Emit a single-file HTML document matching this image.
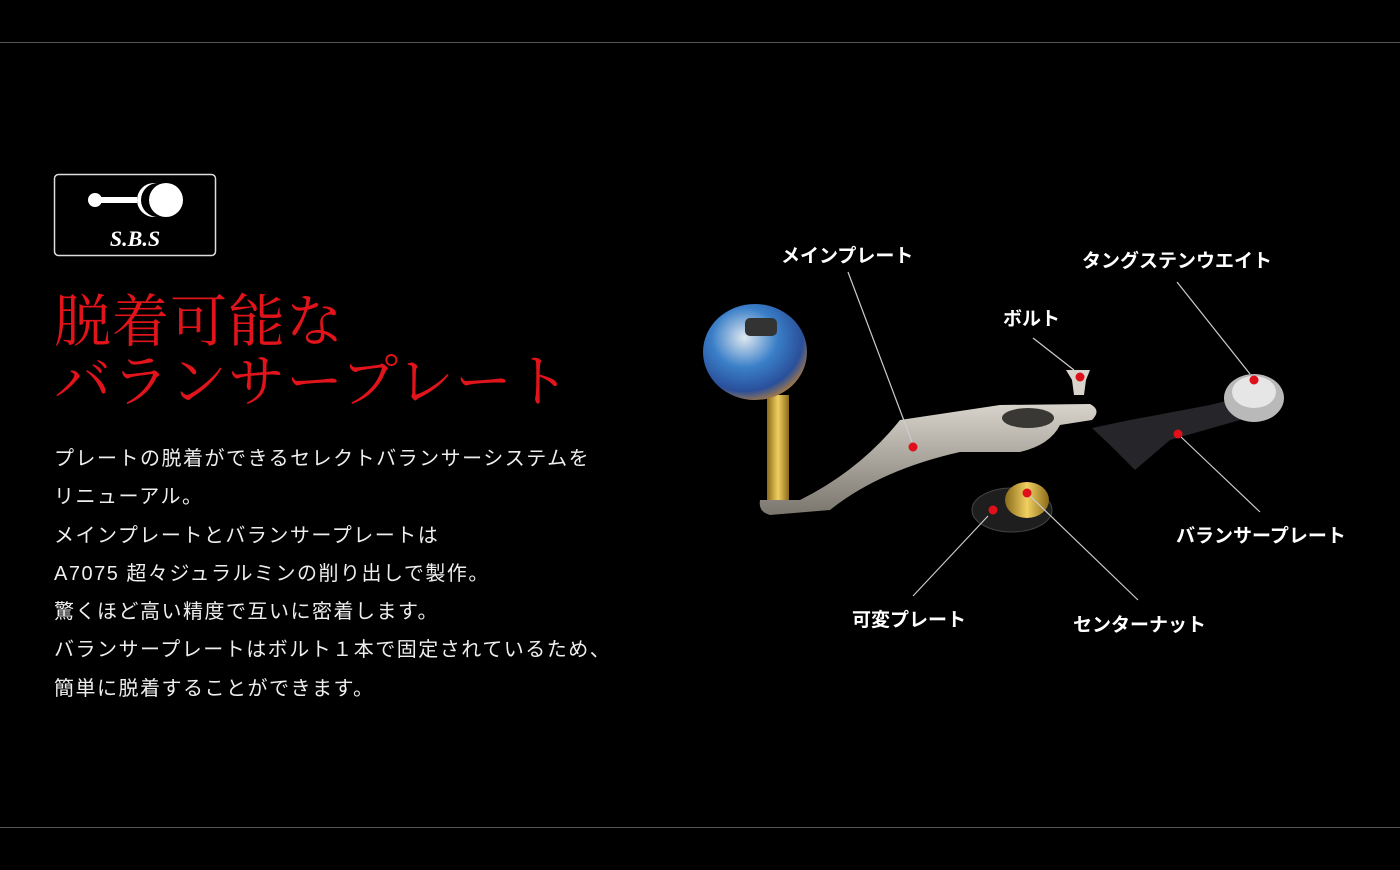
<!DOCTYPE html>
<html><head><meta charset="utf-8"><style>
html,body{margin:0;padding:0;background:#000;width:1400px;height:870px;overflow:hidden;position:relative}
.hl{position:absolute;left:0;width:1400px;height:1px;background:#555}
.t{position:absolute;left:54px;color:#e0141a;font-family:"Liberation Serif","Noto Serif CJK SC",serif;font-size:57px;line-height:62px;letter-spacing:1px}
.b{position:absolute;left:54px;top:440px;color:#eee;font-family:"Liberation Sans","Noto Sans CJK JP",sans-serif;font-size:20px;letter-spacing:1.5px;line-height:38.3px}
.lab{position:absolute;color:#fff;font-family:"Liberation Sans","Noto Sans CJK JP",sans-serif;font-size:19px;font-weight:bold;white-space:nowrap}
</style></head><body>
<div class="hl" style="top:42px"></div>
<div class="hl" style="top:827px"></div>
<svg style="position:absolute;left:0;top:0" width="1400" height="870">
<rect x="54.5" y="174.5" width="161" height="81" rx="4" fill="none" stroke="#ddd" stroke-width="1.5"/>
<circle cx="95" cy="200" r="7" fill="#fff"/>
<rect x="95" y="197" width="42" height="6" fill="#fff"/>
<circle cx="154" cy="200" r="17" fill="#fff"/>
<circle cx="158" cy="200" r="17" fill="#000"/>
<circle cx="166" cy="200" r="17" fill="#fff"/>
<text x="135" y="246" fill="#fff" font-family="Liberation Serif,serif" font-style="italic" font-weight="bold" font-size="22" text-anchor="middle">S.B.S</text>
<defs>
<radialGradient id="k" cx="0.4" cy="0.35" r="0.7"><stop offset="0" stop-color="#dfe8f0"/><stop offset="0.45" stop-color="#3a7fc8"/><stop offset="0.8" stop-color="#2a4f9a"/><stop offset="1" stop-color="#b8803a"/></radialGradient>
<linearGradient id="g" x1="0" x2="1"><stop offset="0" stop-color="#8a6a1a"/><stop offset="0.5" stop-color="#f0d060"/><stop offset="1" stop-color="#8a6a1a"/></linearGradient>
<linearGradient id="s" x1="0" y1="0" x2="0" y2="1"><stop offset="0" stop-color="#d8d4cc"/><stop offset="1" stop-color="#7a766e"/></linearGradient>
</defs>
<rect x="767" y="395" width="22" height="110" fill="url(#g)"/>
<path d="M760 500 L800 500 Q860 470 900 420 L1000 405 L1090 404 Q1102 410 1092 420 L1060 425 Q1050 445 1020 452 L960 452 Q880 470 830 510 L770 515 Q758 512 760 500Z" fill="url(#s)"/>
<ellipse cx="1028" cy="418" rx="26" ry="10" fill="#3a3834"/>
<ellipse cx="755" cy="352" rx="52" ry="48" fill="url(#k)"/>
<rect x="745" y="318" width="32" height="18" rx="5" fill="#333"/>
<path d="M1092 428 L1130 420 L1210 405 L1230 400 L1240 420 L1170 440 L1135 470 L1110 445Z" fill="#26262a"/>
<ellipse cx="1254" cy="398" rx="30" ry="24" fill="#b9b9b9"/>
<ellipse cx="1254" cy="392" rx="22" ry="16" fill="#e6e6e6"/>
<path d="M1066 370 L1090 370 L1086 380 L1084 395 L1074 395 L1072 380Z" fill="#d8d4cc"/>
<ellipse cx="1012" cy="510" rx="40" ry="22" fill="#1e1e1e" stroke="#444"/>
<ellipse cx="1027" cy="500" rx="22" ry="18" fill="url(#g)"/>
<g stroke="#ccc" stroke-width="1.2">
<line x1="848" y1="272" x2="912" y2="442"/>
<line x1="1177" y1="282" x2="1250" y2="374"/>
<line x1="1033" y1="338" x2="1074" y2="370"/>
<line x1="1260" y1="512" x2="1180" y2="436"/>
<line x1="913" y1="596" x2="988" y2="516"/>
<line x1="1138" y1="600" x2="1030" y2="496"/>
</g>
<g fill="#e0101a">
<circle cx="913" cy="447" r="4.5"/><circle cx="1254" cy="380" r="4.5"/><circle cx="1080" cy="377" r="4.5"/>
<circle cx="1178" cy="434" r="4.5"/><circle cx="993" cy="510" r="4.5"/><circle cx="1027" cy="493" r="4.5"/>
</g>
</svg>
<div class="t" style="top:292px">脱着可能な</div>
<div class="t" style="top:352px">バランサープレート</div>
<div class="b">プレートの脱着ができるセレクトバランサーシステムを<br>リニューアル。<br>メインプレートとバランサープレートは<br>A7075 超々ジュラルミンの削り出しで製作。<br>驚くほど高い精度で互いに密着します。<br>バランサープレートはボルト１本で固定されているため、<br>簡単に脱着することができます。</div>
<div class="lab" style="left:781px;top:241px">メインプレート</div>
<div class="lab" style="left:1082px;top:246px">タングステンウエイト</div>
<div class="lab" style="left:1003px;top:304px">ボルト</div>
<div class="lab" style="left:1176px;top:521px">バランサープレート</div>
<div class="lab" style="left:852px;top:605px">可変プレート</div>
<div class="lab" style="left:1073px;top:610px">センターナット</div>
</body></html>
